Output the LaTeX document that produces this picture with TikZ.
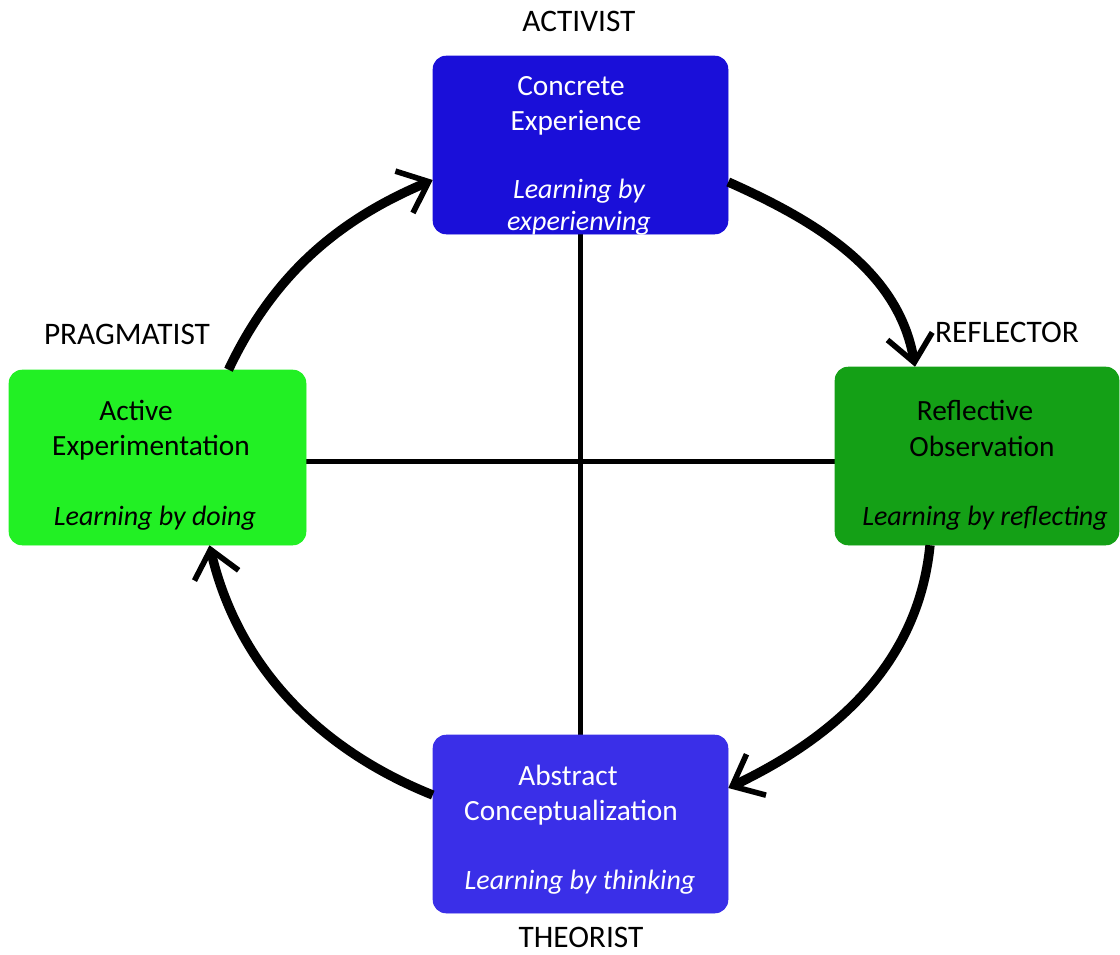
\documentclass[tikz,border=0pt]{standalone}
\usepackage{fontspec}
\setmainfont{Carlito}
\usetikzlibrary{arrows.meta,calc}
\definecolor{ceblue}{RGB}{26,15,217}
\definecolor{acblue}{RGB}{58,47,232}
\definecolor{rogreen}{RGB}{20,160,22}
\definecolor{aegreen}{RGB}{34,240,36}
\begin{document}
\begin{tikzpicture}[x=0.75pt,y=-0.75pt,
  boxst/.style={rounded corners=10pt, inner sep=0pt, draw=none},
  txt/.style={font=\fontsize{22}{26}\selectfont, anchor=base, inner sep=0pt},
  lbl/.style={font=\fontsize{23.5}{27}\selectfont, anchor=base, inner sep=0pt},
  itxt/.style={font=\fontsize{21}{25}\selectfont\itshape, anchor=base, inner sep=0pt},
  cross/.style={line width=3.75pt},
  cyc/.style={line width=7pt, -{Straight Barb[length=20pt,width=34pt,line width=4.2pt]}}]
\useasboundingbox (0,0) rectangle (1120,954);
% boxes
\node[boxst, fill=ceblue, minimum width=221.25pt, minimum height=133.5pt] (ce) at (580.5,145) {};
\node[boxst, fill=rogreen, minimum width=213pt, minimum height=133.5pt] (ro) at (977,456) {};
\node[boxst, fill=acblue, minimum width=221.25pt, minimum height=133.5pt] (ac) at (580.5,824) {};
\node[boxst, fill=aegreen, minimum width=222.75pt, minimum height=131.25pt] (ae) at (157.5,457.5) {};
% cross
\draw[cross] (ce.south) -- (ac.north);
\draw[cross] ($(ae.east)+(0,3.5)$) -- ($(ro.west)+(0,5)$);
% redraw boxes over the cross ends
\fill[ceblue, rounded corners=10pt] (ce.south west) rectangle (ce.north east);
\fill[rogreen, rounded corners=10pt] (ro.south west) rectangle (ro.north east);
\fill[acblue, rounded corners=10pt] (ac.south west) rectangle (ac.north east);
\fill[aegreen, rounded corners=10pt] (ae.south west) rectangle (ae.north east);
% cycle arrows
\draw[cyc] ($(ae.north)+(71,0)$) .. controls +(45,-95) and +(-95,40) .. ($(ce.west)+(0,35)$);
\draw[cyc] ($(ce.east)+(0,37)$) .. controls +(90,40) and +(-16,-95) .. ($(ro.north)+(-62,0)$);
\draw[cyc] ($(ro.south)+(-47,0)$) .. controls +(-12,120) and +(105,-50) .. ($(ac.east)+(0,-36)$);
\draw[cyc] ($(ac.west)+(0,-29)$) .. controls +(-115,-46) and +(28,120) .. ($(ae.south)+(52,0)$);
% texts: concrete experience
\node[txt, text=white] (ce1) at (571,95) {Concrete};
\node[txt, text=white] (ce2) at (576,130) {Experience};
\node[itxt, text=white] (ce3) at (579,198) {Learning by};
\node[itxt, text=white] (ce4) at (579,230) {experienving};
% reflective observation
\node[txt] (ro1) at (975,420) {Reflective};
\node[txt] (ro2) at (982,456) {Observation};
\node[itxt] (ro3) at (985,525) {Learning by reflecting};
% abstract conceptualization
\node[txt, text=white] (ac1) at (568,785) {Abstract};
\node[txt, text=white] (ac2) at (571,820) {Conceptualization};
\node[itxt, text=white] (ac3) at (580,889) {Learning by thinking};
% active experimentation
\node[txt] (ae1) at (136,420) {Active};
\node[txt] (ae2) at (151,455) {Experimentation};
\node[itxt] (ae3) at (155,525) {Learning by doing};
% style labels
\node[lbl] (lact) at (579,31) {ACTIVIST};
\node[lbl] (lref) at (1007,342) {REFLECTOR};
\node[lbl] (lprag) at (127,344) {PRAGMATIST};
\node[lbl] (lthe) at (581,947) {THEORIST};
\end{tikzpicture}
\end{document}
